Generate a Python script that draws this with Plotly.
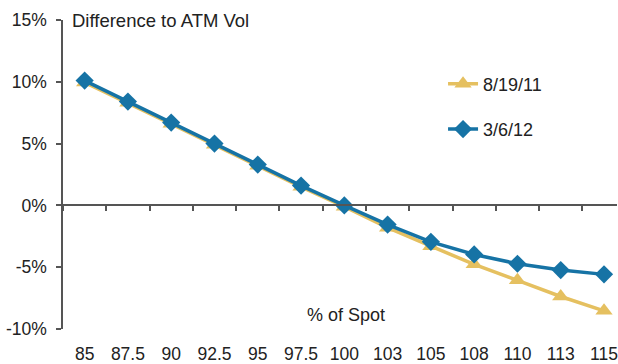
import plotly.graph_objects as go

categories = ["85", "87.5", "90", "92.5", "95", "97.5", "100", "103", "105", "108", "110", "113", "115"]
series_aug11 = [9.95, 8.3, 6.6, 4.9, 3.2, 1.5, -0.1, -1.8, -3.3, -4.77, -6.06, -7.37, -8.53]
series_mar12 = [10.1, 8.4, 6.7, 5.0, 3.3, 1.6, 0.0, -1.55, -2.95, -3.97, -4.72, -5.23, -5.58]
y_ticks = [-10, -5, 0, 5, 10, 15]
y_ticktext = ["-10%", "-5%", "0%", "5%", "10%", "15%"]

GOLD = "#e5c060"
BLUE = "#1673a5"
FONT = "Liberation Sans, Arial, sans-serif"
TXT = "#222222"

fig = go.Figure()
fig.add_trace(go.Scatter(x=categories, y=series_aug11, name="8/19/11", mode="lines+markers",
                         line=dict(color=GOLD, width=3.5),
                         marker=dict(symbol="triangle-up", size=15, color=GOLD),
                         legendgroup="a"))
fig.add_trace(go.Scatter(x=categories, y=series_mar12, name="3/6/12", mode="lines+markers",
                         line=dict(color=BLUE, width=3.5),
                         marker=dict(symbol="diamond", size=14, color=BLUE),
                         legendgroup="b"))

xr = [-0.5, 12.3]
fig.update_layout(
    width=618, height=364,
    margin=dict(l=63, r=0, t=20, b=33),
    paper_bgcolor="white", plot_bgcolor="white",
    font=dict(family=FONT, size=17.5, color=TXT),
    showlegend=True,
    legend=dict(x=0.686, y=0.72, xanchor="left", yanchor="middle",
                bgcolor="rgba(0,0,0,0)", tracegroupgap=19,
                font=dict(size=18, color=TXT)),
    xaxis=dict(type="category", categoryorder="array", categoryarray=categories,
               range=xr, showline=False, showgrid=False, zeroline=False,
               ticks="", ticklabelstandoff=12, tickfont=dict(size=17.5, color=TXT)),
    xaxis2=dict(type="category", categoryorder="array", categoryarray=categories,
                overlaying="x", anchor="free", position=0.4, side="bottom",
                range=xr, showline=True, linecolor="#555555", linewidth=1.5,
                showgrid=False, zeroline=False, ticks="outside", ticklen=5,
                tickcolor="#555555", tickwidth=1.5, tickson="boundaries",
                showticklabels=False),
    yaxis=dict(range=[-10, 15], tickvals=y_ticks, ticktext=y_ticktext,
               showline=True, linecolor="#555555", linewidth=1.5,
               ticks="outside", ticklen=5, tickcolor="#555555", tickwidth=1.5,
               showgrid=False, zeroline=False, ticklabelstandoff=6,
               tickfont=dict(size=17.5, color=TXT)),
    annotations=[
        dict(text="Difference to ATM Vol", x=0.012, y=1.0, xref="paper", yref="paper",
             xanchor="left", yanchor="middle", showarrow=False,
             font=dict(size=18.5, color=TXT)),
        dict(text="% of Spot", x=0.51, y=0.045, xref="paper", yref="paper",
             xanchor="center", yanchor="middle", showarrow=False,
             font=dict(size=18, color=TXT)),
    ],
)
# dummy trace so xaxis2 renders
fig.add_trace(go.Scatter(x=categories, y=[None]*len(categories), xaxis="x2", showlegend=False,
                         hoverinfo="skip"))

fig.write_html("out.html")
